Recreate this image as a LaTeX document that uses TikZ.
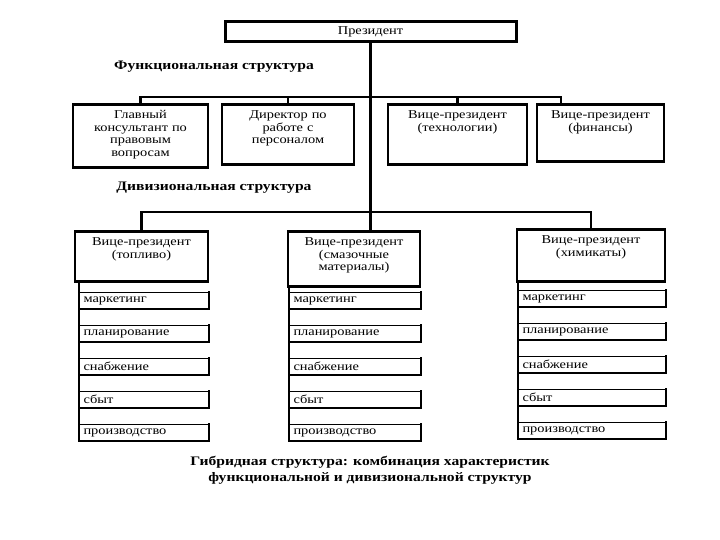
\documentclass[tikz,border=0pt]{standalone}
\usepackage{fontspec}
\setmainfont{Liberation Serif}[FakeStretch=1.2]
\usetikzlibrary{calc}

\begin{document}
\begin{tikzpicture}[x=1pt,y=-1pt,font=\fontsize{12}{12.8}\selectfont,
  link/.style={line width=2.4pt},
  box/.style={draw,line width=2.8pt,anchor=north,align=center,inner xsep=2pt,inner ysep=5pt,text height=9pt},
  head/.style={font=\bfseries\fontsize{13}{16}\selectfont,align=center},
  sub/.style={draw,line width=1pt,anchor=north west,text width=#1,align=left,inner xsep=4pt,inner ysep=0pt,minimum height=16,
    append after command={(\tikzlastnode.north east) edge[draw,line width=2.8pt,line cap=rect] (\tikzlastnode.south east)
      (\tikzlastnode.south east) edge[draw,line width=2.8pt,line cap=rect] (\tikzlastnode.south west)}}]
  \useasboundingbox (0,0) rectangle (720,540);

  \node[draw,line width=3pt,minimum width=291,minimum height=20,inner sep=0pt] (pres) at (370.5,32) {Президент};

  % functional part
  \node[head] (func) at (214,67) {Функциональная структура};
  \node[box,text width=131,text depth=44] (legal) at (140.5,103) {Главный\\консультант по\\правовым\\вопросам};
  \node[box,text width=128,text depth=41] (hr) at (288,103) {Директор по\\работе с\\персоналом};
  \node[box,text width=135,text depth=41] (tech) at (457.5,103) {Вице-президент\\(технологии)};
  \node[box,text width=123,text depth=38] (fin) at (600.5,103) {Вице-президент\\(финансы)};
  \coordinate (fbar) at (0,97);
  \coordinate (finin) at (561,103);
  \draw[link] (legal.north) |- (fbar -| finin) -- (finin);
  \draw[link] (hr.north) -- (hr.north |- fbar);
  \draw[link] (tech.north) -- (tech.north |- fbar);

  % divisional part
  \node[head] (div) at (214,188) {Дивизиональная структура};
  \node[box,text width=129,text depth=31] (fuel) at (141.5,230) {Вице-президент\\(топливо)};
  \node[box,text width=128,text depth=36] (lube) at (354,230) {Вице-президент\\(смазочные\\материалы)};
  \node[box,text width=144,text depth=33] (chem) at (591,228) {Вице-президент\\(химикаты)};
  \draw[link] (pres.south) -- (pres.south |- lube.north);
  \coordinate (dbar) at (0,212);
  \draw[link] (fuel.north) |- (dbar -| chem.north) -- (chem.north);

  \foreach \d/\x/\y/\w in {fuel/79/292/121,lube/289/292/123,chem/518/290/139}{
    \foreach \t [count=\i] in {маркетинг,планирование,снабжение,сбыт,производство}
      \node[sub=\w] (\d\i) at (\x,{\y+33*(\i-1)}) {\t};
    \draw[link] (\d.south -| \d5.west) -- (\d5.south west);
  }

  \node[head] (hyb) at (370,470) {Гибридная структура: комбинация характеристик\\функциональной и дивизиональной структур};
\end{tikzpicture}
\end{document}
